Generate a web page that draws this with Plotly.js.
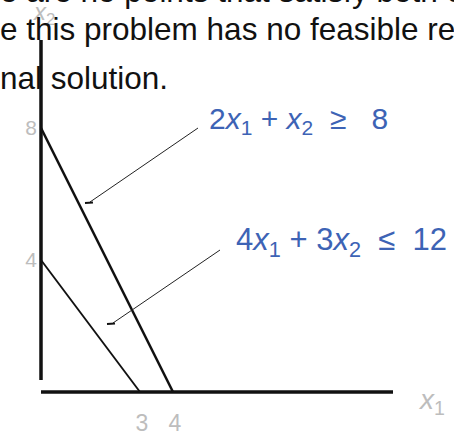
<!DOCTYPE html>
<html>
<head>
<meta charset="utf-8">
<script src="https://cdn.plot.ly/plotly-3.0.1.min.js"></script>
<style>html,body{margin:0;padding:0;background:#fff;}#chart{width:454px;height:437px;}</style>
</head>
<body>
<div id="chart"></div>
<script>
// ---- data ----
const constraint1X = [0, 4];      // 2x1 + x2 >= 8  -> intercepts (0,8),(4,0)
const constraint1Y = [8, 0];
const constraint2X = [0, 3];      // 4x1 + 3x2 <= 12 -> intercepts (0,4),(3,0)
const constraint2Y = [4, 0];
const xTickVals = [3, 4];
const xTickText = ["3", "4"];
const yTickVals = [4, 8];
const yTickText = ["4", "8"];
const label1 = "2<i>x</i><sub>1</sub> + <i>x</i><sub>2</sub>\u00a0\u00a0≥\u00a0\u00a0 8";
const label2 = "4<i>x</i><sub>1</sub> + 3<i>x</i><sub>2</sub>\u00a0\u00a0≤\u00a0\u00a012";
const textLines = [
  "e are no points that satisfy both c",
  "e this problem has no feasible re",
  "nal solution."
];
const xAxisName = "<i>x</i><sub>1</sub>";
const yAxisName = "<i>x</i><sub>2</sub>";

// ---- layout helpers (pixel -> paper) ----
const W = 454, H = 437, ML = 38, MR = 58, MT = 36, MB = 42;
const PX = px => (px - ML) / (W - ML - MR);
const PY = py => (H - MB - py) / (H - MT - MB);
const U = 33; // px per data unit
const DX = px => (px - 41) / U;
const DY = py => (392 - py) / U;

const FONT = "Liberation Sans, Arial, Helvetica, sans-serif";
const BLUE = "#3d63b5";
const GRAY = "#bdbdbd";

const traces = [
  {x: constraint1X, y: constraint1Y, mode: "lines", line: {color: "#111", width: 2.5}, hoverinfo: "skip"},
  {x: constraint2X, y: constraint2Y, mode: "lines", line: {color: "#111", width: 1.8}, hoverinfo: "skip"}
];

const shapes = [
  // axes
  {type: "line", xref: "x", yref: "y", x0: 0, y0: DY(380), x1: 0, y1: DY(40), line: {color: "#111", width: 3.5}},
  {type: "line", xref: "x", yref: "y", x0: 0, y0: 0, x1: DX(393), y1: 0, line: {color: "#111", width: 3.5}},
  // callout lines
  {type: "line", xref: "x", yref: "y", x0: DX(198), y0: DY(128), x1: DX(90), y1: DY(202), line: {color: "#222", width: 1}},
  {type: "line", xref: "x", yref: "y", x0: DX(85), y0: DY(203), x1: DX(93), y1: DY(202.5), line: {color: "#111", width: 2.2}},
  {type: "line", xref: "x", yref: "y", x0: DX(220), y0: DY(250), x1: DX(113), y1: DY(323), line: {color: "#222", width: 1}},
  {type: "line", xref: "x", yref: "y", x0: DX(107), y0: DY(324), x1: DX(115), y1: DY(323.5), line: {color: "#111", width: 2.2}}
];

const annotations = [
  {xref: "paper", yref: "paper", x: PX(44), y: PY(13), text: yAxisName, showarrow: false,
   font: {family: FONT, size: 24, color: GRAY}, xanchor: "center", yanchor: "middle"},
  {xref: "paper", yref: "paper", x: PX(431), y: PY(401), text: xAxisName, showarrow: false,
   font: {family: FONT, size: 28, color: GRAY}, xanchor: "center", yanchor: "middle"},
  {xref: "paper", yref: "paper", x: PX(-2), y: PY(-9), text: textLines[0], showarrow: false,
   font: {family: FONT, size: 31.5, color: "#111"}, xanchor: "left", yanchor: "middle"},
  {xref: "paper", yref: "paper", x: PX(-2), y: PY(29), text: textLines[1], showarrow: false,
   font: {family: FONT, size: 31.5, color: "#111"}, xanchor: "left", yanchor: "middle"},
  {xref: "paper", yref: "paper", x: PX(-2), y: PY(78), text: textLines[2], showarrow: false,
   font: {family: FONT, size: 31.5, color: "#111"}, xanchor: "left", yanchor: "middle"},
  {xref: "paper", yref: "paper", x: PX(207), y: PY(120), text: label1, showarrow: false,
   font: {family: FONT, size: 30, color: BLUE}, xanchor: "left", yanchor: "middle"},
  {xref: "paper", yref: "paper", x: PX(234), y: PY(242), text: label2, showarrow: false,
   font: {family: FONT, size: 31, color: BLUE}, xanchor: "left", yanchor: "middle"}
];

const layout = {
  width: W, height: H,
  margin: {l: ML, r: MR, t: MT, b: MB, pad: 0},
  paper_bgcolor: "#fff", plot_bgcolor: "#fff",
  showlegend: false,
  xaxis: {
    range: [-3 / U, (W - MR - 41) / U],
    showgrid: false, zeroline: false, showline: false, ticks: "",
    tickmode: "array", tickvals: xTickVals, ticktext: xTickText,
    tickfont: {family: FONT, size: 23, color: GRAY},
    ticklabelstandoff: 12, ticklabelshift: 2, fixedrange: true
  },
  yaxis: {
    range: [-3 / U, (392 - MT) / U],
    showgrid: false, zeroline: false, showline: false, ticks: "",
    tickmode: "array", tickvals: yTickVals, ticktext: yTickText,
    tickfont: {family: FONT, size: 21, color: GRAY},
    fixedrange: true
  },
  shapes: shapes,
  annotations: annotations
};

Plotly.newPlot("chart", traces, layout, {displayModeBar: false, staticPlot: true});
</script>
</body>
</html>
